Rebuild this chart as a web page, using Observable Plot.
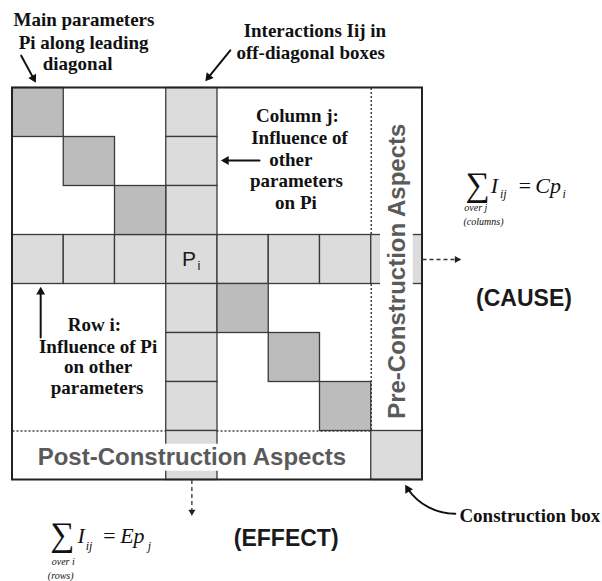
<!DOCTYPE html>
<html>
<head>
<meta charset="utf-8">
<script src="https://cdn.jsdelivr.net/npm/d3@7"></script>
<script src="https://cdn.jsdelivr.net/npm/@observablehq/plot@0.6"></script>
<style>
  html, body { margin: 0; padding: 0; background: #fff; }
  #chart svg { display: block; }
</style>
</head>
<body>
<div id="chart"></div>
<script>
// ---------- data (grid units: one unit = one matrix box) ----------
const gridSize = 8;                       // 7 parameters + construction row/column
const piIndex = 3;                        // the highlighted parameter Pi
const mainDiagonal = [0, 1, 2, 4, 5, 6];  // main parameters on the leading diagonal
const constructionIndex = 7;              // construction box (bottom-right)

const serifLabels = [
  {text: "Main parameters", x: 0.02, y: -1.38, anchor: "start"},
  {text: "Pi along leading", x: 0.12, y: -0.93, anchor: "start"},
  {text: "diagonal", x: 0.59, y: -0.50, anchor: "start"},
  {text: "Interactions Iij in", x: 4.51, y: -1.17, anchor: "start"},
  {text: "off-diagonal boxes", x: 4.37, y: -0.72, anchor: "start"},
  {text: "Column j:", x: 5.56, y: 0.56, anchor: "middle"},
  {text: "Influence of", x: 5.60, y: 1.02, anchor: "middle"},
  {text: "other", x: 5.43, y: 1.46, anchor: "middle"},
  {text: "parameters", x: 5.54, y: 1.90, anchor: "middle"},
  {text: "on Pi", x: 5.53, y: 2.34, anchor: "middle"},
  {text: "Row i:", x: 1.60, y: 4.83, anchor: "middle"},
  {text: "Influence of Pi", x: 1.67, y: 5.28, anchor: "middle"},
  {text: "on other", x: 1.67, y: 5.70, anchor: "middle"},
  {text: "parameters", x: 1.65, y: 6.13, anchor: "middle"},
  {text: "Construction box", x: 8.72, y: 8.74, anchor: "start"}
];

const sansLabels = [
  {text: "(CAUSE)", x: 9.98, y: 4.30},
  {text: "(EFFECT)", x: 5.34, y: 9.19}
];

const aspectLabels = [
  {text: "Post-Construction Aspects", x: 3.5, y: 7.54, rotate: 0},
  {text: "Pre-Construction Aspects", x: 7.5, y: 3.74, rotate: -90}
];
const aspectMasks = [
  {x1: 0.45, x2: 6.60, y1: 7.27, y2: 7.82},
  {x1: 7.18, x2: 7.82, y1: 0.62, y2: 6.90}
];

const arrows = [
  {x1: 0.17, y1: -0.66, x2: 0.45, y2: -0.12, bend: 0},
  {x1: 4.25, y1: -0.77, x2: 3.77, y2: -0.15, bend: 0},
  {x1: 4.82, y1: 1.48, x2: 4.08, y2: 1.48, bend: 0},
  {x1: 0.55, y1: 5.09, x2: 0.55, y2: 4.07, bend: 0},
  {x1: 8.64, y1: 8.69, x2: 7.67, y2: 8.11, bend: 30}
];
const dashedArrows = [
  {x1: 8.00, y1: 3.5, x2: 8.74, y2: 3.5},
  {x1: 3.5, y1: 8.00, x2: 3.5, y2: 8.72}
];

// formula pieces: sum over j of Iij = Cp_i ; sum over i of Iij = Ep_j
const sigmas = [{x: 9.07, y: 1.98}, {x: 0.97, y: 9.13}];
const formulaMain = [
  {text: "I", x: 9.33, y: 2.00}, {text: "=", x: 9.85, y: 2.00}, {text: "Cp", x: 10.20, y: 2.00},
  {text: "I", x: 1.27, y: 9.14}, {text: "=", x: 1.74, y: 9.14}, {text: "Ep", x: 2.10, y: 9.14}
];
const formulaSubs = [
  {text: "ij", x: 9.51, y: 2.16}, {text: "i", x: 10.73, y: 2.16},
  {text: "ij", x: 1.43, y: 9.34}, {text: "j", x: 2.64, y: 9.34}
];
const formulaNotes = [
  {text: "over j", x: 9.04, y: 2.44}, {text: "(columns)", x: 9.19, y: 2.73},
  {text: "over i", x: 0.99, y: 9.67}, {text: "(rows)", x: 0.94, y: 9.95}
];

// ---------- layout ----------
const W = 602, H = 581;
const gridLeft = 12, gridTop = 87.5, cellW = 51.25, cellH = 49;
const serif = "'Liberation Serif', 'Times New Roman', serif";
const sans = "'Liberation Sans', Arial, sans-serif";

// ---------- derived geometry ----------
const idx = d3.range(gridSize);
const key = (r, c) => r + "," + c;
const lightMap = new Map();
idx.forEach(c => lightMap.set(key(piIndex, c), {r: piIndex, c}));
idx.forEach(r => lightMap.set(key(r, piIndex), {r, c: piIndex}));
lightMap.set(key(constructionIndex, constructionIndex), {r: constructionIndex, c: constructionIndex});
const lightCells = [...lightMap.values()];
const darkCells = mainDiagonal.map(i => ({r: i, c: i}));
const dottedLines = [
  {x1: constructionIndex, y1: 0, x2: constructionIndex, y2: constructionIndex},
  {x1: 0, y1: constructionIndex, x2: constructionIndex, y2: constructionIndex}
];
// arrow heads: filled triangles rotated along the arrival direction (screen angle, 0 = up)
function heads(list, back) {
  return list.map(d => {
    const dx = (d.x2 - d.x1) * cellW, dy = (d.y2 - d.y1) * cellH;
    const a = Math.atan2(dx, -dy) + ((d.bend || 0) * Math.PI / 180);
    return {x: d.x2 - back * Math.sin(a) / cellW, y: d.y2 + back * Math.cos(a) / cellH,
            rotate: a * 180 / Math.PI};
  });
}
const straight = arrows.filter(d => !d.bend);
const curved = arrows.filter(d => d.bend);

const chart = Plot.plot({
  width: W, height: H, margin: 0,
  x: {axis: null, domain: [-gridLeft / cellW, (W - gridLeft) / cellW], range: [0, W]},
  y: {axis: null, domain: [-gridTop / cellH, (H - gridTop) / cellH], range: [0, H]},
  style: {background: "#fff"},
  marks: [
    Plot.link(dottedLines, {x1: "x1", y1: "y1", x2: "x2", y2: "y2",
      stroke: "#444", strokeWidth: 1.5, strokeDasharray: "2,2"}),
    Plot.rect(lightCells, {x1: d => d.c, x2: d => d.c + 1, y1: d => d.r, y2: d => d.r + 1,
      fill: "#dcdcdc", stroke: "#3a3a3a", strokeWidth: 1.3}),
    Plot.rect(darkCells, {x1: d => d.c, x2: d => d.c + 1, y1: d => d.r, y2: d => d.r + 1,
      fill: "#bcbcbc", stroke: "#3a3a3a", strokeWidth: 1.3}),
    Plot.rect(aspectMasks, {x1: "x1", x2: "x2", y1: "y1", y2: "y2", fill: "#fff"}),
    Plot.rect([{x1: 0, x2: gridSize, y1: 0, y2: gridSize}], {x1: "x1", x2: "x2", y1: "y1", y2: "y2",
      fill: "none", stroke: "#222", strokeWidth: 2}),
    Plot.text(aspectLabels, {x: "x", y: "y", text: "text", rotate: "rotate",
      fontFamily: sans, fontWeight: "bold", fontSize: 24, fill: "#5a5a5a"}),
    Plot.text([{x: piIndex + 0.5, y: piIndex + 0.5}], {x: "x", y: "y", text: () => "P",
      fontFamily: sans, fontSize: 21, fill: "#1a1a1a", dx: -3}),
    Plot.text([{x: piIndex + 0.5, y: piIndex + 0.5}], {x: "x", y: "y", text: () => "i",
      fontFamily: sans, fontSize: 13, fill: "#1a1a1a", dx: 7, dy: 6}),
    Plot.text(serifLabels.filter(d => d.anchor === "start"), {x: "x", y: "y", text: "text", textAnchor: "start",
      fontFamily: serif, fontWeight: "bold", fontSize: 19, fill: "#111"}),
    Plot.text(serifLabels.filter(d => d.anchor === "middle"), {x: "x", y: "y", text: "text", textAnchor: "middle",
      fontFamily: serif, fontWeight: "bold", fontSize: 19, fill: "#111"}),
    Plot.text(sansLabels, {x: "x", y: "y", text: "text",
      fontFamily: sans, fontWeight: "bold", fontSize: 23, fill: "#1a1a1a"}),
    Plot.arrow(straight, {x1: "x1", y1: "y1", x2: "x2", y2: "y2",
      stroke: "#111", strokeWidth: 2, headLength: 0, insetEnd: 4}),
    Plot.arrow(curved, {x1: "x1", y1: "y1", x2: "x2", y2: "y2", bend: 30,
      stroke: "#111", strokeWidth: 2, headLength: 0, insetEnd: 4}),
    Plot.dot(heads(arrows, 4.5), {x: "x", y: "y", rotate: "rotate", symbol: "triangle",
      r: 3.3, fill: "#111", stroke: "none"}),
    Plot.link(dashedArrows, {x1: "x1", y1: "y1", x2: "x2", y2: "y2",
      stroke: "#333", strokeWidth: 1.3, strokeDasharray: "4,3"}),
    Plot.dot(heads(dashedArrows, 3.5), {x: "x", y: "y", rotate: "rotate", symbol: "triangle",
      r: 2.6, fill: "#222", stroke: "none"}),
    Plot.text(sigmas, {x: "x", y: "y", text: () => "\u2211",
      fontFamily: serif, fontSize: 34, fill: "#111"}),
    Plot.text(formulaMain, {x: "x", y: "y", text: "text", textAnchor: "start",
      fontFamily: serif, fontStyle: "italic", fontSize: 22, fill: "#111"}),
    Plot.text(formulaSubs, {x: "x", y: "y", text: "text", textAnchor: "start",
      fontFamily: serif, fontStyle: "italic", fontSize: 12, fill: "#111"}),
    Plot.text(formulaNotes, {x: "x", y: "y", text: "text",
      fontFamily: serif, fontStyle: "italic", fontSize: 10, fill: "#111"})
  ]
});
document.getElementById("chart").appendChild(chart);
</script>
</body>
</html>
